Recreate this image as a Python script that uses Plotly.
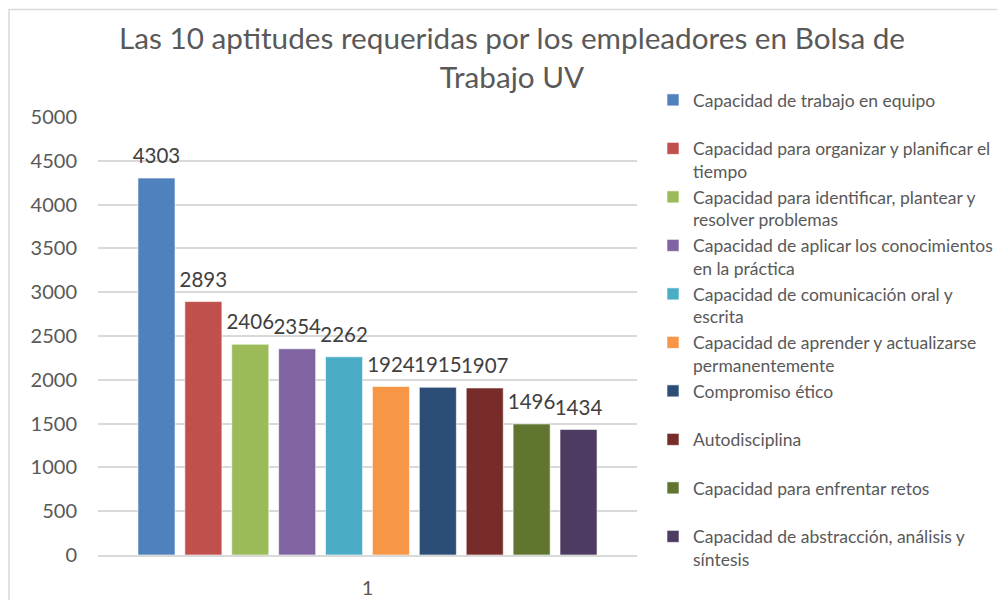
import plotly.graph_objects as go

categories = ["1"]
series_names = [
    "Capacidad de trabajo en equipo",
    "Capacidad para organizar y planificar el<br>tiempo",
    "Capacidad para identificar, plantear y<br>resolver problemas",
    "Capacidad de aplicar los conocimientos<br>en la práctica",
    "Capacidad de comunicación oral y<br>escrita",
    "Capacidad de aprender y actualizarse<br>permanentemente",
    "Compromiso ético",
    "Autodisciplina",
    "Capacidad para enfrentar retos",
    "Capacidad de abstracción, análisis y<br>síntesis",
]
values = [4303, 2893, 2406, 2354, 2262, 1924, 1915, 1907, 1496, 1434]
colors = ["#4F81BD", "#C0504D", "#9BBB59", "#8064A2", "#4BACC6",
          "#F79646", "#2C4D75", "#772C2A", "#5F7530", "#4D3B62"]
y_ticks = [0, 500, 1000, 1500, 2000, 2500, 3000, 3500, 4000, 4500, 5000]

FONT = "Lato"
fig = go.Figure()
for i, (name, v, c) in enumerate(zip(series_names, values, colors)):
    label = name if "<br>" in name else name + "<br> "
    fig.add_trace(go.Bar(
        x=categories, y=[v], name=label, legendgroup=f"g{i}", offsetgroup=f"g{i}",
        marker=dict(color=c, line=dict(color="rgba(255,255,255,0.6)", width=1)),
    ))
# data labels, offset like the bars through scattermode='group'
for i, v in enumerate(values):
    fig.add_trace(go.Scatter(
        x=categories, y=[v], mode="markers+text", text=[str(v)],
        textposition="top center", offsetgroup=f"g{i}", showlegend=False,
        marker=dict(size=14, color="rgba(0,0,0,0)"), cliponaxis=False,
        textfont=dict(family=FONT, size=20.5, color="#404040"), hoverinfo="skip",
    ))

# page body adds an 8px offset; margins are set to compensate
fig.update_layout(
    width=1005, height=600,
    paper_bgcolor="white", plot_bgcolor="white",
    margin=dict(l=90, r=376, t=109, b=53, autoexpand=False),
    barmode="group", bargap=0.13, bargroupgap=0.21,
    scattermode="group", scattergap=0.13,
    title=dict(text="Las 10 aptitudes requeridas por los empleadores en Bolsa de<br>Trabajo UV",
               x=504 / 1005, xanchor="center", xref="container",
               y=1 - 41 / 600, yanchor="top", yref="container",
               font=dict(family=FONT, size=29.7, color="#595959")),
    font=dict(family=FONT, color="#595959"),
    legend=dict(x=645 / 1005, xanchor="left", xref="container",
                y=1 - 74 / 600, yanchor="top", yref="container",
                font=dict(family=FONT, size=17.5, color="#595959"),
                tracegroupgap=0, valign="top", bgcolor="rgba(0,0,0,0)", maxheight=1),
    showlegend=True,
    xaxis=dict(showgrid=False, showline=True, linecolor="#D9D9D9", linewidth=1.5,
               tickfont=dict(family=FONT, size=20, color="#595959"),
               ticks="", ticklabelstandoff=14),
    yaxis=dict(range=[0, 5000], tickvals=y_ticks, showgrid=True, gridcolor="#D9D9D9",
               gridwidth=1.5, zeroline=False, showline=False,
               tickfont=dict(family=FONT, size=20, color="#595959"),
               ticks="", ticklabelstandoff=20),
    shapes=[dict(type="rect", xref="paper", yref="paper",
                 x0=(9 - 98) / 539, x1=(1012 - 98) / 539,
                 y0=-0.3, y1=(555 - 9.5) / 438,
                 line=dict(color="#D9D9D9", width=1.5), fillcolor="rgba(0,0,0,0)", layer="below")],
)

fig.write_html("out.html")
